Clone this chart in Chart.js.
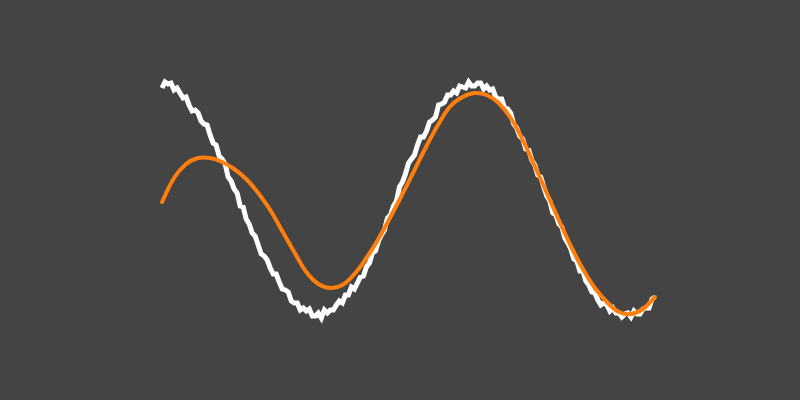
<!DOCTYPE html>
<html>
<head>
<meta charset="utf-8">
<script src="https://cdn.jsdelivr.net/npm/chart.js@4"></script>
<style>
  html, body { margin: 0; padding: 0; background: #444444; }
  #wrap { width: 800px; height: 400px; }
</style>
</head>
<body>
<div id="wrap"><canvas id="c" width="800" height="400"></canvas></div>
<script>
// Noisy measured signal (white), sampled at evenly spaced steps 0..164
const noisyValues = [
  1.12, 1.18, 1.16, 1.17, 1.10, 1.12, 1.07, 1.02, 1.03, 0.95,
  0.89, 0.90, 0.87, 0.79, 0.76, 0.75, 0.65, 0.57, 0.55, 0.44,
  0.41, 0.36, 0.23, 0.19, 0.11, 0.07, -0.06, -0.07, -0.19, -0.24,
  -0.33, -0.36, -0.45, -0.54, -0.56, -0.60, -0.68, -0.74, -0.74, -0.82,
  -0.89, -0.90, -0.92, -1.01, -1.03, -1.03, -1.10, -1.08, -1.11, -1.09,
  -1.16, -1.16, -1.13, -1.18, -1.10, -1.13, -1.10, -1.10, -1.05, -1.01,
  -1.03, -0.95, -0.95, -0.87, -0.89, -0.83, -0.77, -0.76, -0.67, -0.63,
  -0.53, -0.51, -0.41, -0.35, -0.30, -0.18, -0.15, -0.06, -0.01, 0.13,
  0.18, 0.26, 0.37, 0.41, 0.45, 0.55, 0.63, 0.63, 0.69, 0.78,
  0.80, 0.83, 0.95, 0.96, 0.98, 1.05, 1.05, 1.09, 1.07, 1.14,
  1.13, 1.12, 1.18, 1.14, 1.14, 1.17, 1.17, 1.11, 1.14, 1.10,
  1.11, 1.03, 1.01, 1.01, 0.92, 0.91, 0.87, 0.76, 0.72, 0.64,
  0.61, 0.51, 0.50, 0.40, 0.35, 0.25, 0.23, 0.13, 0.04, -0.01,
  -0.13, -0.15, -0.24, -0.27, -0.38, -0.43, -0.49, -0.59, -0.61, -0.71,
  -0.71, -0.81, -0.85, -0.92, -0.93, -1.00, -1.05, -1.03, -1.05, -1.11,
  -1.08, -1.13, -1.13, -1.17, -1.14, -1.13, -1.17, -1.11, -1.14, -1.14,
  -1.09, -1.08, -1.08, -0.99, -0.97
];

// Smooth fitted curve (orange)
const fitX = [0, 4, 8, 12, 16, 20, 24, 28, 32, 36, 40, 44, 48, 52, 56, 60, 64, 68, 72, 76,
              80, 84, 88, 92, 96, 100, 104, 108, 112, 116, 120, 124, 128, 132, 136, 140, 144, 148, 152, 156, 160, 164];
const fitValues = [-0.02, 0.22, 0.36, 0.42, 0.42, 0.38, 0.31, 0.21, 0.07, -0.10,
                   -0.31, -0.52, -0.72, -0.84, -0.88, -0.85, -0.74, -0.58, -0.39, -0.17,
                   0.06, 0.30, 0.54, 0.76, 0.94, 1.03, 1.07, 1.05, 0.97, 0.82,
                   0.60, 0.34, 0.07, -0.20, -0.46, -0.69, -0.88, -1.02, -1.12, -1.14,
                   -1.09, -0.97];

const noisyData = noisyValues.map((v, i) => ({ x: i, y: v }));
const fitData = fitX.map((x, i) => ({ x: x, y: fitValues[i] }));

new Chart(document.getElementById('c'), {
  type: 'line',
  data: {
    datasets: [
      {
        label: 'fit',
        data: fitData,
        borderColor: '#ff7f0e',
        borderWidth: 4,
        pointRadius: 0,
        tension: 0.4,
        borderCapStyle: 'round',
        fill: false,
        order: 0,
        clip: false
      },
      {
        label: 'signal',
        data: noisyData,
        borderColor: '#ffffff',
        borderWidth: 5,
        pointRadius: 0,
        tension: 0,
        fill: false,
        order: 1,
        clip: false
      }
    ]
  },
  options: {
    responsive: false,
    devicePixelRatio: 1,
    animation: false,
    layout: { padding: { left: 162, right: 145, top: 50, bottom: 50 } },
    plugins: { legend: { display: false }, tooltip: { enabled: false } },
    scales: {
      x: { type: 'linear', min: 0, max: 164, display: false },
      y: { type: 'linear', min: -1.5, max: 1.5, display: false }
    }
  }
});
</script>
</body>
</html>
